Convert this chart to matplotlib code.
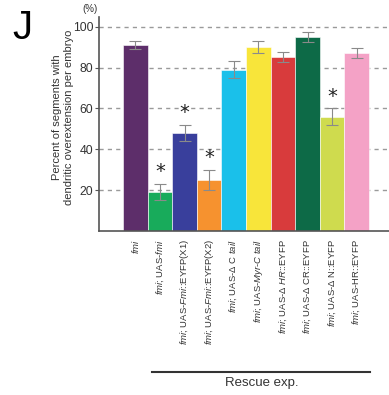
import matplotlib
matplotlib.use("Agg")
import matplotlib.pyplot as plt
from matplotlib import font_manager

# pick a condensed face if it's there
names = {f.name for f in font_manager.fontManager.ttflist}
fam = "Liberation Sans Narrow" if "Liberation Sans Narrow" in names else "Liberation Sans"
plt.rcParams["font.family"] = [fam, "DejaVu Sans"]
plt.rcParams["mathtext.fontset"] = "custom"
plt.rcParams["mathtext.rm"] = fam
plt.rcParams["mathtext.it"] = fam + ":italic"

# -----------------------
# Data
# -----------------------
labels = [
    r"$fmi$",
    r"$fmi$; UAS-$fmi$",
    r"$fmi$; UAS-$Fmi$::EYFP(X1)",
    r"$fmi$; UAS-$Fmi$::EYFP(X2)",
    r"$fmi$; UAS-Δ C $tail$",
    r"$fmi$; UAS-$Myr$-$C$ $tail$",
    r"$fmi$; UAS-Δ $HR$::EYFP",
    r"$fmi$; UAS-Δ CR::EYFP",
    r"$fmi$; UAS-Δ N::EYFP",
    r"$fmi$; UAS-HR::EYFP",
]
values = [91, 19, 48, 25, 79, 90, 85, 95, 56, 87]
errors = [2, 4, 4, 5, 4, 3, 2.5, 2.5, 4, 2.5]
significant = [False, True, True, True, False, False, False, False, True, False]
colors = ["#5d2e6a", "#18ab5b", "#393f9c", "#f6922f", "#1ac0ea",
          "#f8e53a", "#d83b3c", "#0d6a47", "#cfdb4e", "#f4a2c6"]
yticks = [20, 40, 60, 80, 100]

fig = plt.figure(figsize=(3.89, 3.95), dpi=100)
ax = fig.add_axes([0.2545, 0.4152, 0.7455, 0.543])

x = list(range(len(values)))
ax.bar(x, values, width=1.0, color=colors, edgecolor="white", linewidth=0.4, zorder=2)
ax.errorbar(x, values, yerr=errors, fmt="none", ecolor="#8a8a8a",
            elinewidth=0.8, capsize=4.3, capthick=0.8, zorder=3)

for xi, v, e, s in zip(x, values, errors, significant):
    if s:
        ax.text(xi, v + e + 6, "*", ha="center", va="center", fontsize=14,
                color="#222222", family="DejaVu Sans")

for t in yticks:
    ax.axhline(t, color="#9a9a9a", linestyle=(0, (3, 3)), linewidth=1.0, zorder=1)

ax.set_xlim(-1.48, 10.31)
ax.set_ylim(0, 105)
ax.set_yticks(yticks)
ax.set_yticklabels([str(t) for t in yticks], fontsize=8.8, color="#333333")
ax.tick_params(axis="y", length=3, color="#555555", pad=1)
ax.set_xticks(x)
ax.set_xticklabels(labels, rotation=90, fontsize=6.8, color="#333333")
ax.tick_params(axis="x", length=0, pad=6)

for side in ["top", "right"]:
    ax.spines[side].set_visible(False)
ax.spines["left"].set_color("#555555")
ax.spines["bottom"].set_color("#555555")
ax.spines["left"].set_linewidth(1.2)
ax.spines["bottom"].set_linewidth(1.2)

# axis annotations
fig.text(63 / 389, 1 - 117 / 395, "Percent of segments with\ndendritic overextension per embryo",
         rotation=90, ha="center", va="center", fontsize=8, color="#333333",
         linespacing=1.25)
fig.text(0.232, 0.978, "(%)", ha="center", va="center", fontsize=7, color="#333333")
fig.text(22 / 389, 1 - 28 / 395, "J", ha="center", va="center", fontsize=29, color="black")

# rescue bracket
fig.add_artist(plt.Line2D([152 / 389, 370 / 389], [1 - 372 / 395, 1 - 372 / 395],
                          color="#333333", linewidth=1.5))
fig.text(262 / 389, 1 - 383 / 395, "Rescue exp.", ha="center", va="center",
         fontsize=9.5, color="#333333")

fig.savefig("out.png", dpi=100)
